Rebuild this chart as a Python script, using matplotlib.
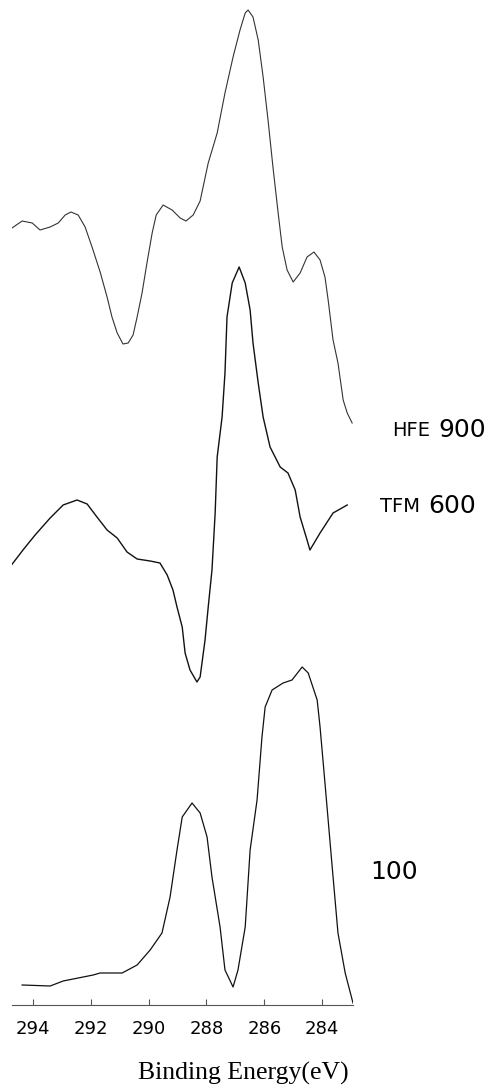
import matplotlib.pyplot as plt
import numpy as np

# XPS C1s spectra (intensity in arbitrary units, curves already offset)
energy_hfe = [294.83, 294.38, 294.03, 293.76, 293.41, 293.13, 292.89, 292.69, 292.44, 292.20,
              291.96, 291.68, 291.44, 291.27, 291.09, 290.89, 290.71, 290.54, 290.40, 290.23,
              290.06, 289.88, 289.74, 289.50, 289.19, 288.91, 288.71, 288.46, 288.22, 287.94,
              287.63, 287.36, 287.08, 286.84, 286.66, 286.56, 286.39, 286.21, 286.04, 285.87,
              285.70, 285.52, 285.38, 285.21, 285.00, 284.76, 284.52, 284.28, 284.07, 283.90,
              283.79, 283.62, 283.45, 283.27, 283.13, 282.96]
int_hfe = [775, 784, 782, 775, 778, 782, 790, 793, 790, 778,
           758, 733, 708, 688, 672, 661, 662, 670, 688, 712,
           742, 772, 790, 800, 795, 787, 784, 790, 804, 842,
           872, 912, 948, 975, 992, 995, 988, 965, 928, 885,
           838, 792, 758, 735, 723, 732, 748, 753, 745, 728,
           705, 665, 642, 605, 592, 582]

energy_tfm = [294.80, 294.35, 293.93, 293.41, 292.96, 292.48, 292.13, 291.79, 291.44, 291.09,
              290.75, 290.40, 289.95, 289.61, 289.36, 289.16, 289.02, 288.84, 288.74, 288.57,
              288.33, 288.22, 288.05, 287.94, 287.81, 287.70, 287.63, 287.46, 287.36, 287.29,
              287.11, 286.87, 286.66, 286.49, 286.39, 286.21, 286.04, 285.80, 285.45, 285.18,
              284.93, 284.76, 284.52, 284.42, 284.07, 283.62, 283.13]
int_tfm = [438, 455, 470, 487, 500, 505, 501, 488, 475, 467,
           453, 446, 444, 442, 430, 415, 398, 378, 352, 335,
           323, 328, 365, 398, 435, 492, 548, 588, 632, 688,
           722, 738, 722, 695, 662, 622, 588, 558, 538, 532,
           515, 488, 465, 455, 472, 492, 500]

energy_100 = [294.38, 293.41, 292.96, 291.92, 291.68, 290.92, 290.40, 289.95, 289.54, 289.26,
              289.02, 288.84, 288.50, 288.22, 287.98, 287.81, 287.53, 287.36, 287.08, 286.91,
              286.66, 286.49, 286.25, 286.08, 285.97, 285.73, 285.35, 285.04, 284.69, 284.48,
              284.17, 284.07, 283.90, 283.65, 283.45, 283.20, 282.93]
int_100 = [20, 19, 24, 30, 32, 32, 40, 55, 72, 108,
           155, 188, 202, 192, 168, 128, 78, 35, 18, 35,
           78, 155, 205, 268, 298, 315, 322, 325, 338, 332,
           305, 278, 222, 138, 72, 32, 2]

ticks = [294, 292, 290, 288, 286, 284]

W, H = 495, 1086
fig = plt.figure(figsize=(W / 100, H / 100), dpi=100)
ax = fig.add_axes([12 / W, 81 / H, 341 / W, 1005 / H])

ax.plot(energy_hfe, int_hfe, color='#333333', lw=0.8)
ax.plot(energy_tfm, int_tfm, color='#111111', lw=1.0)
ax.plot(energy_100, int_100, color='#111111', lw=0.9)

ax.set_xlim(294.73, 282.93)
ax.set_ylim(0, 1005)
for s in ['left', 'right', 'top']:
    ax.spines[s].set_visible(False)
ax.spines['bottom'].set_color('#555555')
ax.spines['bottom'].set_linewidth(0.8)
ax.set_yticks([])
ax.set_xticks(ticks)
ax.set_xticklabels([str(t) for t in ticks], fontsize=13, family='DejaVu Sans')
ax.tick_params(axis='x', direction='in', length=4, width=0.8, color='#555555', pad=11)

# sample labels on the right
fig.text(430 / W, 1 - 430 / H, 'HFE', fontsize=14, ha='right', va='center', family='DejaVu Sans')
fig.text(438 / W, 1 - 430 / H, '900', fontsize=18, ha='left', va='center', family='DejaVu Sans')
fig.text(420 / W, 1 - 506 / H, 'TFM', fontsize=14, ha='right', va='center', family='DejaVu Sans')
fig.text(428 / W, 1 - 506 / H, '600', fontsize=18, ha='left', va='center', family='DejaVu Sans')
fig.text(370 / W, 1 - 872 / H, '100', fontsize=18, ha='left', va='center', family='DejaVu Sans')

fig.text(243 / W, 1 - 1073 / H, 'Binding Energy(eV)', fontsize=18.5, ha='center', va='center',
         family='Liberation Serif')

plt.savefig('out.png', dpi=100)
